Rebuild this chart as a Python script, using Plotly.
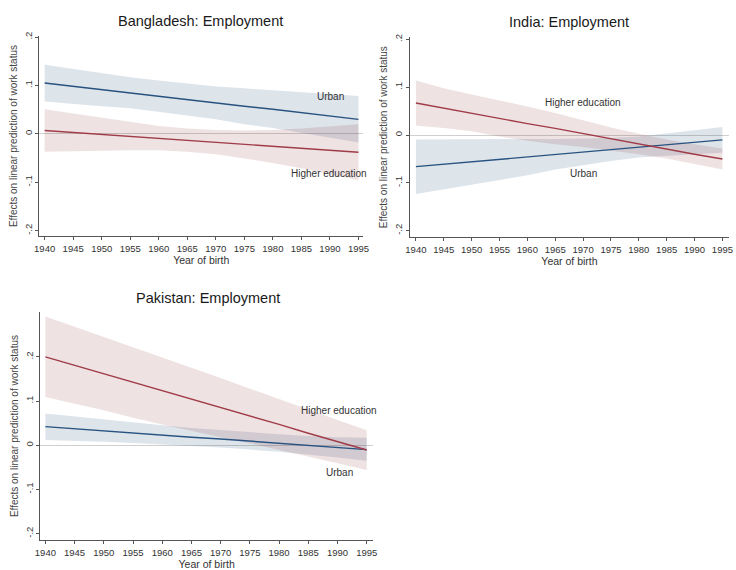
import plotly.graph_objects as go

# Birth cohorts at which the marginal effects were evaluated
years = [1940, 1945, 1950, 1955, 1960, 1965, 1970, 1975, 1980, 1985, 1990, 1995]

# Bangladesh: effects on linear prediction of work status
bd_urban = [0.105, 0.098, 0.091, 0.085, 0.078, 0.071, 0.064, 0.057, 0.051, 0.044, 0.037, 0.030]
bd_urban_hi = [0.143, 0.134, 0.125, 0.117, 0.110, 0.104, 0.098, 0.094, 0.090, 0.086, 0.082, 0.078]
bd_urban_lo = [0.067, 0.062, 0.057, 0.053, 0.046, 0.038, 0.030, 0.020, 0.012, 0.002, -0.008, -0.018]
bd_edu = [0.007, 0.003, -0.001, -0.005, -0.009, -0.013, -0.017, -0.022, -0.026, -0.030, -0.034, -0.038]
bd_edu_hi = [0.051, 0.042, 0.033, 0.024, 0.016, 0.011, 0.008, 0.007, 0.008, 0.011, 0.015, 0.020]
bd_edu_lo = [-0.037, -0.036, -0.035, -0.034, -0.034, -0.037, -0.042, -0.051, -0.060, -0.071, -0.083, -0.096]

# India
in_urban = [-0.066, -0.061, -0.056, -0.051, -0.046, -0.040, -0.035, -0.030, -0.025, -0.020, -0.015, -0.010]
in_urban_hi = [-0.009, -0.009, -0.008, -0.008, -0.008, -0.008, -0.007, -0.006, -0.003, 0.003, 0.010, 0.017]
in_urban_lo = [-0.123, -0.113, -0.104, -0.094, -0.084, -0.072, -0.063, -0.054, -0.047, -0.043, -0.040, -0.037]
in_edu = [0.067, 0.056, 0.046, 0.035, 0.024, 0.014, 0.003, -0.008, -0.018, -0.029, -0.040, -0.050]
in_edu_hi = [0.114, 0.098, 0.085, 0.073, 0.060, 0.046, 0.031, 0.016, 0.003, -0.009, -0.019, -0.028]
in_edu_lo = [0.020, 0.015, 0.008, -0.003, -0.012, -0.019, -0.025, -0.032, -0.040, -0.049, -0.060, -0.072]

# Pakistan
pk_urban = [0.042, 0.037, 0.033, 0.028, 0.023, 0.018, 0.014, 0.009, 0.004, -0.001, -0.006, -0.010]
pk_urban_hi = [0.072, 0.065, 0.058, 0.051, 0.045, 0.039, 0.034, 0.029, 0.025, 0.021, 0.018, 0.017]
pk_urban_lo = [0.012, 0.010, 0.008, 0.005, 0.002, -0.002, -0.005, -0.010, -0.015, -0.021, -0.028, -0.035]
pk_edu = [0.200, 0.181, 0.162, 0.142, 0.123, 0.104, 0.085, 0.066, 0.047, 0.027, 0.008, -0.011]
pk_edu_hi = [0.291, 0.268, 0.245, 0.222, 0.199, 0.176, 0.152, 0.128, 0.104, 0.080, 0.057, 0.034]
pk_edu_lo = [0.109, 0.094, 0.079, 0.062, 0.047, 0.032, 0.018, 0.004, -0.010, -0.026, -0.041, -0.056]

panel_titles = ["Bangladesh: Employment", "India: Employment", "Pakistan: Employment"]
x_tick_labels = [str(y) for y in years]
y_tick_vals = [-0.2, -0.1, 0.0, 0.1, 0.2]
y_tick_text = ["-.2", "-.1", "0", ".1", ".2"]

FONT = "Liberation Sans, Arial, sans-serif"
NAVY = "rgb(40,82,128)"
MAROON = "rgb(160,60,72)"
NAVY_BAND = "rgba(26,71,111,0.15)"
MAROON_BAND = "rgba(144,53,59,0.14)"

panels = [
    dict(urban=(bd_urban, bd_urban_lo, bd_urban_hi), edu=(bd_edu, bd_edu_lo, bd_edu_hi),
         labels={"Urban": (1990.1, 0.078), "Higher education": (1989.8, -0.081)}),
    dict(urban=(in_urban, in_urban_lo, in_urban_hi), edu=(in_edu, in_edu_lo, in_edu_hi),
         labels={"Higher education": (1970.0, 0.069), "Urban": (1970.0, -0.080)}),
    dict(urban=(pk_urban, pk_urban_lo, pk_urban_hi), edu=(pk_edu, pk_edu_lo, pk_edu_hi),
         labels={"Higher education": (1990.3, 0.079), "Urban": (1990.3, -0.061)}),
]

# Plot-area geometry for each panel (paper fractions and axis ranges)
geometry = [
    dict(xd=[0.0462, 0.4932], yd=[0.5895, 0.9439], xr=[1939.09, 1995.81], yr=[-0.2117, 0.2027],
         title_xy=(0.269, 0.9705)),
    dict(xd=[0.5580, 0.9986], yd=[0.5877, 0.9416], xr=[1938.94, 1996.18], yr=[-0.2139, 0.2050],
         title_xy=(0.778, 0.968)),
    dict(xd=[0.0476, 0.5068], yd=[0.0526, 0.4561], xr=[1939.16, 1996.06], yr=[-0.2151, 0.3018],
         title_xy=(0.279, 0.4805)),
]

fig = go.Figure()
annotations = []

for i, (p, g) in enumerate(zip(panels, geometry), start=1):
    xa = "x" if i == 1 else f"x{i}"
    ya = "y" if i == 1 else f"y{i}"
    # Confidence bands first, point estimates on top
    for key, line_col, band_col in (("urban", NAVY, NAVY_BAND), ("edu", MAROON, MAROON_BAND)):
        est, lo, hi = p[key]
        fig.add_trace(go.Scatter(
            x=years + years[::-1], y=hi + lo[::-1], fill="toself", fillcolor=band_col,
            line=dict(width=0), mode="lines", hoverinfo="skip", xaxis=xa, yaxis=ya))
    for key, line_col in (("urban", NAVY), ("edu", MAROON)):
        est = p[key][0]
        fig.add_trace(go.Scatter(
            x=years, y=est, mode="lines", line=dict(color=line_col, width=1.4),
            xaxis=xa, yaxis=ya))
    for text, (lx, ly) in p["labels"].items():
        annotations.append(dict(x=lx, y=ly, xref=xa, yref=ya, text=text, showarrow=False,
                                xanchor="center", yanchor="middle",
                                font=dict(family=FONT, size=10, color="#333333")))
    annotations.append(dict(x=g["title_xy"][0], y=g["title_xy"][1], xref="paper", yref="paper",
                            text=panel_titles[i - 1], showarrow=False,
                            xanchor="center", yanchor="middle",
                            font=dict(family=FONT, size=14.5, color="#1a1a1a")))

    axis_common = dict(showgrid=False, showline=True, linecolor="#555555", linewidth=1,
                       ticks="outside", ticklen=3, tickcolor="#555555", tickwidth=1,
                       tickfont=dict(family=FONT, size=9.5, color="#333333"))
    fig.layout[f"xaxis{'' if i == 1 else i}"] = dict(
        domain=g["xd"], range=g["xr"], anchor=ya, tickvals=years, ticktext=x_tick_labels,
        zeroline=False, tickangle=0,
        title=dict(text="Year of birth", standoff=0, font=dict(family=FONT, size=10.5, color="#333333")),
        **axis_common)
    fig.layout[f"yaxis{'' if i == 1 else i}"] = dict(
        domain=g["yd"], range=g["yr"], anchor=xa, tickvals=y_tick_vals, ticktext=y_tick_text,
        tickangle=-90, zeroline=True, zerolinecolor="#cfcfcf", zerolinewidth=1,
        title=dict(text="Effects on linear prediction of work status", standoff=3,
                   font=dict(family=FONT, size=10, color="#444444")),
        **axis_common)

fig.update_layout(
    width=736, height=570, margin=dict(l=0, r=0, t=0, b=0),
    paper_bgcolor="white", plot_bgcolor="white", showlegend=False,
    annotations=annotations, font=dict(family=FONT),
)

fig.write_html("out.html")
